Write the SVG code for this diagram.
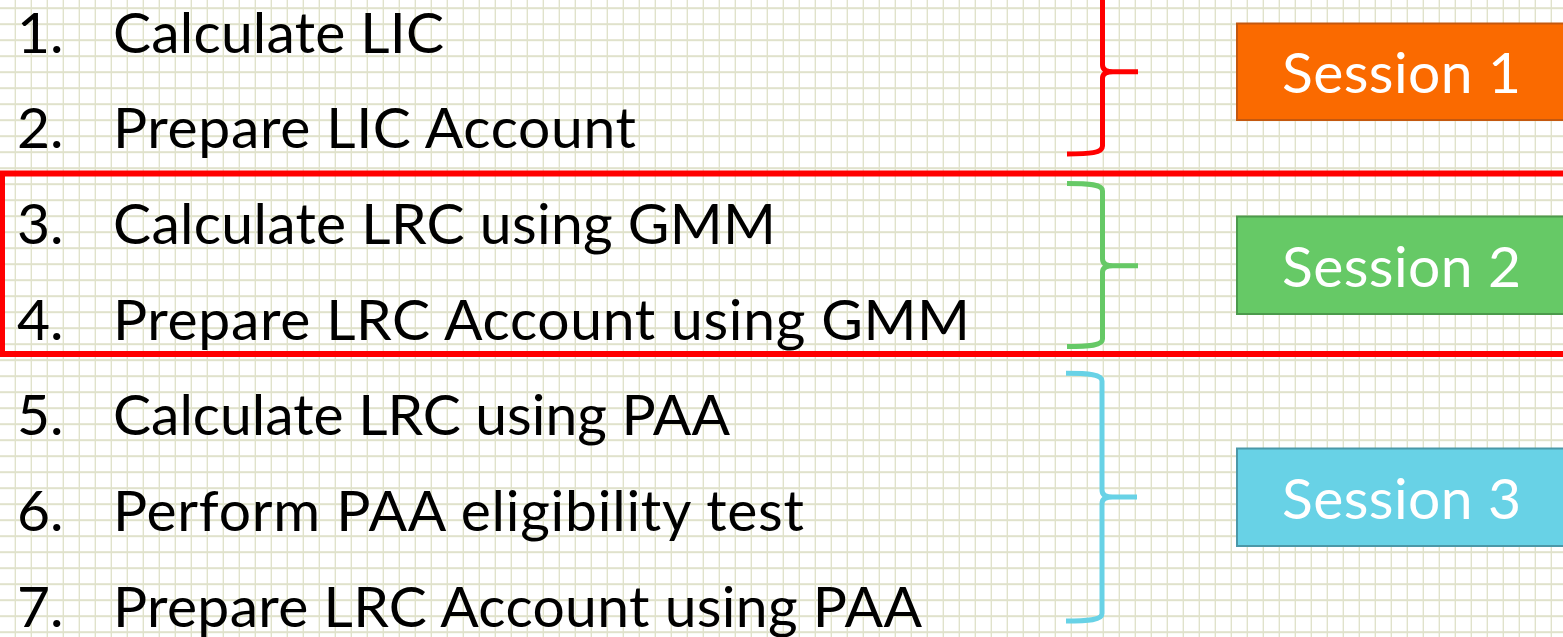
<svg xmlns="http://www.w3.org/2000/svg" width="1563" height="637" viewBox="0 0 1563 637">
  <style>
    .item { font-family: Lato, "Open Sans", "Liberation Sans", sans-serif; font-size: 57px; fill: #000000; }
    .sess { font-family: Lato, "Open Sans", "Liberation Sans", sans-serif; font-size: 57px; fill: #ffffff; text-anchor: middle; }
    .brace { fill: none; stroke-width: 5; stroke-linecap: butt; stroke-linejoin: round; }
  </style>
  <defs>
    <pattern id="grid" x="0" y="0" width="16" height="16" patternUnits="userSpaceOnUse">
      <rect x="14.6" y="0" width="2" height="16" fill="#e0e2cb"/>
      <rect x="0" y="7.2" width="16" height="2" fill="#e0e2cb"/>
    </pattern>
  </defs>
  <rect x="0" y="0" width="1563" height="637" fill="#ffffff"/>
  <rect x="0" y="0" width="1563" height="637" fill="url(#grid)"/>

  <g id="connectors">
    <rect x="2" y="173.5" width="1600" height="180.5" fill="none" stroke="#ff0000" stroke-width="6"/>
    <path class="brace" stroke="#ff0000" d="M1067 -11 C1090 -11 1102.5 -10 1102.5 -3 L1102.5 65 Q1102.5 71.7 1113 71.7 L1138 71.7 M1113 71.7 Q1102.5 71.7 1102.5 78 L1102.5 146 C1102.5 153 1090 154 1067 154"/>
    <path class="brace" stroke="#66c966" d="M1067 183.5 C1090 183.5 1102.5 184.5 1102.5 191 L1102.5 259 Q1102.5 265.7 1113 265.7 L1138 265.7 M1113 265.7 Q1102.5 265.7 1102.5 272 L1102.5 339 C1102.5 345.5 1090 346.5 1067 346.5"/>
    <path class="brace" stroke="#68d2e6" d="M1066 373.3 C1089 373.3 1102 374.3 1102 381 L1102 490 Q1102 497 1112.5 497 L1137 497 M1112.5 497 Q1102 497 1102 503.5 L1102 613.5 C1102 620 1089 621 1066 621"/>
  </g>

  <g id="item1"><text class="item" x="17" y="52.5">1.</text><text class="item" x="113" y="52.5" textLength="331">Calculate LIC</text></g>
  <g id="item2"><text class="item" x="17" y="148.2">2.</text><text class="item" x="113" y="148.2" textLength="523">Prepare LIC Account</text></g>
  <g id="item3"><text class="item" x="17" y="243.9">3.</text><text class="item" x="113" y="243.9" textLength="663">Calculate LRC using GMM</text></g>
  <g id="item4"><text class="item" x="17" y="339.6">4.</text><text class="item" x="113" y="339.6" textLength="857">Prepare LRC Account using GMM</text></g>
  <g id="item5"><text class="item" x="17" y="435.3">5.</text><text class="item" x="113" y="435.3" textLength="617">Calculate LRC using PAA</text></g>
  <g id="item6"><text class="item" x="17" y="531">6.</text><text class="item" x="113" y="531" textLength="691">Perform PAA eligibility test</text></g>
  <g id="item7"><text class="item" x="17" y="626.7">7.</text><text class="item" x="113" y="626.7" textLength="809">Prepare LRC Account using PAA</text></g>

  <g id="session1">
    <rect x="1237" y="23.5" width="330" height="96.5" fill="#fa6a00" stroke="#c4580f" stroke-width="2"/>
    <text class="sess" x="1401.5" y="93.3" textLength="239">Session 1</text>
  </g>
  <g id="session2">
    <rect x="1237" y="216.5" width="330" height="97.5" fill="#66c966" stroke="#4c9a4c" stroke-width="2"/>
    <text class="sess" x="1401.5" y="287" textLength="239">Session 2</text>
  </g>
  <g id="session3">
    <rect x="1237" y="448.5" width="330" height="97.5" fill="#68d2e6" stroke="#4b98a8" stroke-width="2"/>
    <text class="sess" x="1401.5" y="519" textLength="239">Session 3</text>
  </g>
</svg>
